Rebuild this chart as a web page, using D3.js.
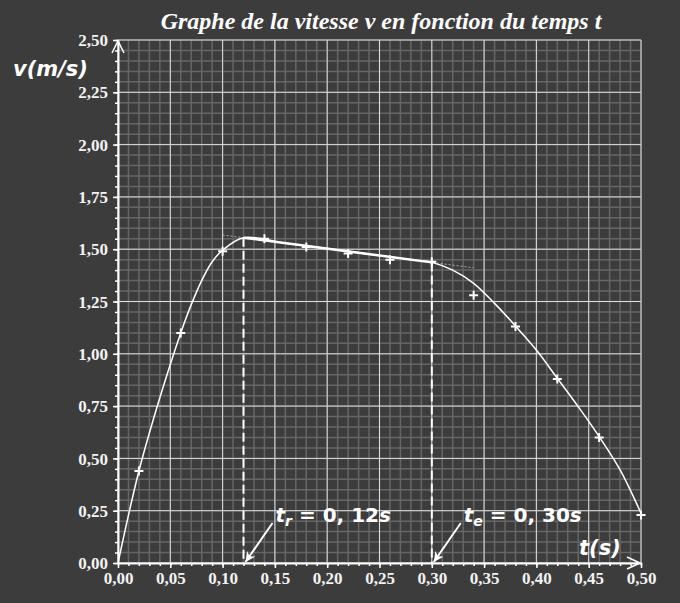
<!DOCTYPE html>
<html>
<head>
<meta charset="utf-8">
<script src="https://cdn.jsdelivr.net/npm/d3@7"></script>
<style>
  body { margin: 0; background: #3c3c3c; }
  svg { display: block; }
</style>
</head>
<body>
<div id="chart"></div>
<script>
// Measured points (time in s, speed in m/s)
var tPoints = [0.02, 0.06, 0.10, 0.14, 0.18, 0.22, 0.26, 0.30, 0.34, 0.38, 0.42, 0.46, 0.50];
var vPoints = [0.44, 1.10, 1.49, 1.55, 1.51, 1.48, 1.45, 1.44, 1.28, 1.13, 0.88, 0.60, 0.23];

// Fitted curve
var tCurve = [0, 0.02, 0.04, 0.06, 0.07, 0.08, 0.09, 0.10, 0.12, 0.16, 0.20, 0.24, 0.28, 0.30, 0.32, 0.34, 0.36, 0.38, 0.40, 0.42, 0.44, 0.46, 0.48, 0.50];
var vCurve = [0, 0.44, 0.79, 1.10, 1.235, 1.35, 1.44, 1.495, 1.555, 1.529, 1.503, 1.476, 1.450, 1.437, 1.40, 1.337, 1.241, 1.133, 1.018, 0.883, 0.747, 0.604, 0.445, 0.238];

// Straight part (constant deceleration) and its tangent extension
var tLinear = [0.12, 0.30];
var vLinear = [1.555, 1.437];
var tTangent = [0.10, 0.34];
var vTangent = [1.568, 1.411];

// Remarkable times
var tMarks = [0.12, 0.30];
var vMarks = [1.555, 1.437];
var markNames = ["r", "e"];
var markValues = ["0, 12", "0, 30"];

// Axis ticks
var xTicks = [0, 0.05, 0.10, 0.15, 0.20, 0.25, 0.30, 0.35, 0.40, 0.45, 0.50];
var yTicks = [0, 0.25, 0.50, 0.75, 1.00, 1.25, 1.50, 1.75, 2.00, 2.25, 2.50];

var svgWidth = 680;
var svgHeight = 603;
var margin = { top: 40, right: 39, bottom: 40, left: 118 };
var width = svgWidth - margin.left - margin.right;
var height = svgHeight - margin.top - margin.bottom;

var svg = d3.select("#chart")
  .append("svg")
  .attr("width", svgWidth)
  .attr("height", svgHeight);

svg.append("rect")
  .attr("width", svgWidth)
  .attr("height", svgHeight)
  .attr("fill", "#3c3c3c");

var chartGroup = svg.append("g")
  .attr("transform", `translate(${margin.left}, ${margin.top})`);

var x = d3.scaleLinear().domain([0, 0.5]).range([0, width]);
var y = d3.scaleLinear().domain([0, 2.5]).range([height, 0]);

var frFormat = d3.formatLocale({ decimal: ",", thousands: " ", grouping: [3], currency: ["", "€"] }).format(".2f");

// Minor grid
var xMinor = x.ticks(50);
var yMinor = y.ticks(50);
chartGroup.append("g").selectAll("line")
  .data(xMinor)
  .enter().append("line")
  .attr("x1", d => x(d)).attr("x2", d => x(d))
  .attr("y1", 0).attr("y2", height)
  .attr("stroke", "#666666").attr("stroke-width", 1.5);
chartGroup.append("g").selectAll("line")
  .data(yMinor)
  .enter().append("line")
  .attr("y1", d => y(d)).attr("y2", d => y(d))
  .attr("x1", 0).attr("x2", width)
  .attr("stroke", "#666666").attr("stroke-width", 1.5);

// Major grid
chartGroup.append("g").selectAll("line")
  .data(xTicks)
  .enter().append("line")
  .attr("x1", d => x(d)).attr("x2", d => x(d))
  .attr("y1", 0).attr("y2", height)
  .attr("stroke", "#dcdcdc").attr("stroke-width", 1);
chartGroup.append("g").selectAll("line")
  .data(yTicks)
  .enter().append("line")
  .attr("y1", d => y(d)).attr("y2", d => y(d))
  .attr("x1", 0).attr("x2", width)
  .attr("stroke", "#dcdcdc").attr("stroke-width", 1);

// Axes: minor ticks, then major ticks with labels
chartGroup.append("g")
  .attr("transform", `translate(0, ${height})`)
  .call(d3.axisBottom(x).tickValues(xMinor).tickSize(3).tickFormat(""))
  .call(g => g.select(".domain").remove());
chartGroup.append("g")
  .call(d3.axisLeft(y).tickValues(yMinor).tickSize(3).tickFormat(""))
  .call(g => g.select(".domain").remove());

var xAxis = chartGroup.append("g")
  .attr("transform", `translate(0, ${height})`)
  .call(d3.axisBottom(x).tickValues(xTicks).tickSize(5).tickSizeOuter(0).tickFormat(frFormat));
var yAxis = chartGroup.append("g")
  .call(d3.axisLeft(y).tickValues(yTicks).tickSize(5).tickSizeOuter(0).tickFormat(frFormat));

svg.selectAll(".tick line").attr("stroke", "#ffffff").attr("stroke-width", 1.5);
svg.selectAll(".domain").attr("stroke", "#ffffff").attr("stroke-width", 2);
svg.selectAll(".tick text")
  .attr("fill", "#f2f2f2")
  .style("font-family", "'Liberation Serif', serif")
  .style("font-weight", "bold")
  .style("font-size", "17px");
xAxis.selectAll(".tick text").attr("y", 9);
yAxis.selectAll(".tick text").attr("x", -10).attr("dy", "0.33em");

// Axis arrows
chartGroup.append("path")
  .attr("d", `M${x(0) - 6},${y(2.5) + 13} L${x(0)},${y(2.5) + 1} L${x(0) + 6},${y(2.5) + 13}`)
  .attr("fill", "none").attr("stroke", "#ffffff").attr("stroke-width", 1.5);
chartGroup.append("path")
  .attr("d", `M${x(0.5) - 14},${height - 6} L${x(0.5) - 1},${height} L${x(0.5) - 14},${height + 6}`)
  .attr("fill", "none").attr("stroke", "#ffffff").attr("stroke-width", 1.5);

// Tangent (thin dotted)
chartGroup.append("line")
  .attr("x1", x(tTangent[0])).attr("y1", y(vTangent[0]))
  .attr("x2", x(tTangent[1])).attr("y2", y(vTangent[1]))
  .attr("stroke", "#b0b0b0").attr("stroke-width", 1)
  .attr("stroke-dasharray", "2,2");

// Vertical dashed lines at t_r and t_e
chartGroup.append("g").selectAll("line")
  .data(tMarks)
  .enter().append("line")
  .attr("x1", d => x(d)).attr("x2", d => x(d))
  .attr("y1", (d, i) => y(vMarks[i])).attr("y2", height)
  .attr("stroke", "#ffffff").attr("stroke-width", 2)
  .attr("stroke-dasharray", "9,4");

// Curve
var line = d3.line()
  .x((d, i) => x(tCurve[i]))
  .y(d => y(d))
  .curve(d3.curveCatmullRom.alpha(0.5));
chartGroup.append("path")
  .attr("d", line(vCurve))
  .attr("fill", "none").attr("stroke", "#ffffff").attr("stroke-width", 1.5);

chartGroup.append("line")
  .attr("x1", x(tLinear[0])).attr("y1", y(vLinear[0]))
  .attr("x2", x(tLinear[1])).attr("y2", y(vLinear[1]))
  .attr("stroke", "#ffffff").attr("stroke-width", 2.5);

// Measured points as crosses
chartGroup.append("g").selectAll("path")
  .data(vPoints)
  .enter().append("path")
  .attr("d", (d, i) => {
    var px = x(tPoints[i]), py = y(d);
    return `M${px - 4.5},${py} H${px + 4.5} M${px},${py - 4.5} V${py + 4.5}`;
  })
  .attr("stroke", "#ffffff").attr("stroke-width", 2);

// Annotation arrows
svg.append("defs").append("marker")
  .attr("id", "head")
  .attr("viewBox", "0 0 10 10")
  .attr("refX", 10).attr("refY", 5)
  .attr("markerWidth", 5).attr("markerHeight", 5)
  .attr("orient", "auto")
  .append("path")
  .attr("d", "M0,0 L10,5 L0,10 L3,5 Z")
  .attr("fill", "#ffffff");

chartGroup.append("g").selectAll("line")
  .data(tMarks)
  .enter().append("line")
  .attr("x1", d => x(d) + 29).attr("y1", height - 40)
  .attr("x2", d => x(d) + 2).attr("y2", height - 1)
  .attr("stroke", "#ffffff").attr("stroke-width", 2)
  .attr("marker-end", "url(#head)");

var labels = chartGroup.append("g").selectAll("text")
  .data(tMarks)
  .enter().append("text")
  .attr("x", d => x(d) + 32)
  .attr("y", height - 41)
  .attr("fill", "#ffffff")
  .style("font-family", "'DejaVu Sans', sans-serif")
  .style("font-weight", "bold")
  .style("font-size", "20px");
labels.append("tspan").style("font-style", "italic").text("t");
labels.append("tspan").style("font-style", "italic").style("font-size", "14px").attr("dy", 4).text((d, i) => markNames[i]);
labels.append("tspan").attr("dy", -4).text((d, i) => " = " + markValues[i]);
labels.append("tspan").style("font-style", "italic").text("s");

// Axis titles
svg.append("text")
  .attr("x", 13).attr("y", 76)
  .attr("fill", "#ffffff")
  .style("font-family", "'DejaVu Sans', sans-serif")
  .style("font-weight", "bold")
  .style("font-style", "italic")
  .style("font-size", "21px")
  .text("v(m/s)");

svg.append("text")
  .attr("x", 579).attr("y", 555)
  .attr("fill", "#ffffff")
  .style("font-family", "'DejaVu Sans', sans-serif")
  .style("font-weight", "bold")
  .style("font-style", "italic")
  .style("font-size", "21px")
  .text("t(s)");

// Title
svg.append("text")
  .attr("x", 381).attr("y", 29)
  .attr("text-anchor", "middle")
  .attr("fill", "#ffffff")
  .style("font-family", "'Liberation Serif', serif")
  .style("font-weight", "bold")
  .style("font-style", "italic")
  .style("font-size", "24px")
  .text("Graphe de la vitesse v en fonction du temps t");
</script>
</body>
</html>
